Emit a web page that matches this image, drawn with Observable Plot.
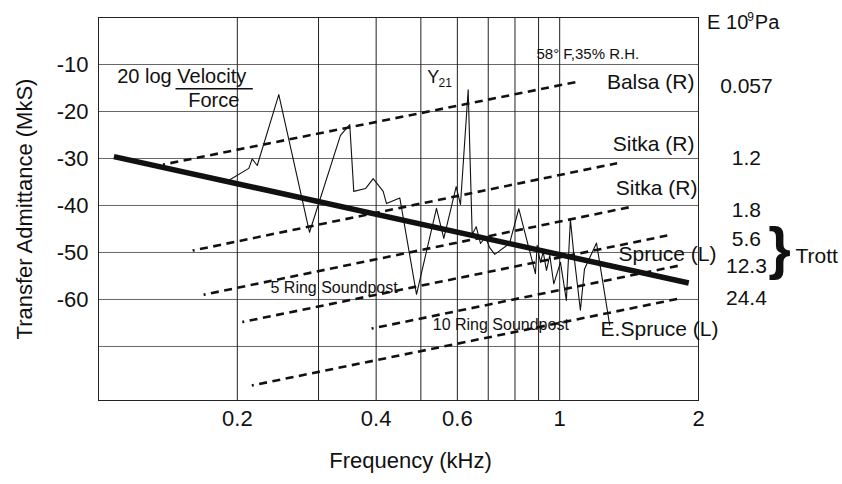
<!DOCTYPE html>
<html><head><meta charset="utf-8">
<script src="https://cdn.jsdelivr.net/npm/d3@7"></script>
<script src="https://cdn.jsdelivr.net/npm/@observablehq/plot@0.6"></script>
<style>body{margin:0;background:#fff}</style>
</head><body><div id="chart"></div>
<script>
// Measured response Y21 (frequency kHz, admittance dB)
const y21Freq = [0.1914,0.2118,0.2154,0.2209,0.2460,0.2868,0.3347,0.3506,0.3577,0.3793,0.3941,0.4143,0.4212,0.4501,0.4893,0.5406,0.5607,0.5965,0.6094,0.6333,0.6461,0.6592,0.6735,0.6905,0.7044,0.7233,0.7785,0.8154,0.8860,0.8936,0.9086,0.9211,0.9363,0.9518,0.9710,1.004,1.034,1.055,1.073,1.109,1.132,1.202,1.284];
const y21Adm  = [-34.7,-32.1,-30.1,-31.5,-16.4,-45.7,-25.1,-22.8,-37.0,-36.4,-34.3,-37.0,-39.6,-38.4,-58.9,-40.6,-47.0,-36.0,-39.8,-15.4,-46.2,-44.5,-48.1,-46.7,-48.9,-50.4,-48.1,-40.7,-54.5,-48.5,-52.1,-49.9,-53.8,-50.6,-56.7,-52.1,-60.2,-43.0,-50.3,-62.3,-53.5,-48.0,-65.5];

// Thick trend line
const trendFreq = [0.108, 1.905];
const trendAdm = [-29.6, -56.5];

// Dashed material lines
const dashFreqStart = [0.138, 0.160, 0.169, 0.205, 0.391, 0.215];
const dashAdmStart  = [-31.3, -49.6, -59.0, -64.8, -66.2, -78.3];
const dashFreqEnd   = [1.109, 1.332, 1.412, 1.711, 1.813, 1.798];
const dashAdmEnd    = [-13.55, -31.0, -40.4, -46.4, -52.8, -59.9];

// Ticks and grid
const xTicks = [0.2, 0.4, 0.6, 0.8, 1, 2];
const xGrid = [0.2, 0.3, 0.4, 0.5, 0.6, 0.7, 0.8, 0.9, 1];
const yTicks = [-10, -20, -30, -40, -50, -60];
const yGrid = [0, -10, -20, -30, -40, -50, -60, -70];

// Material labels (right-aligned)
const matText = ["Balsa (R)", "Sitka (R)", "Sitka (R)", "Spruce (L)", "E.Spruce (L)"];
const matFreq = [1.960, 1.960, 1.990, 2.188, 2.210];
const matAdm  = [-13.77, -27.0, -36.4, -50.4, -66.4];

// Soundpost labels
const spText = ["5 Ring Soundpost", "10 Ring Soundpost"];
const spFreq = [0.236, 0.5306];
const spAdm  = [-57.5, -65.5];

// Young's modulus column
const eText = ["0.057", "1.2", "1.8", "5.6", "12.3", "24.4"];
const eAdm  = [-14.68, -30.06, -41.06, -47.09, -52.98, -59.85];
const eFreq = 2.541;

const font = "'Liberation Sans', Arial, Helvetica, sans-serif";

const y21 = y21Freq.map((f, i) => ({f, a: y21Adm[i]}));
const dashes = dashFreqStart.map((f, i) => ({f1: f, a1: dashAdmStart[i], f2: dashFreqEnd[i], a2: dashAdmEnd[i]}));
const trend = [{f1: trendFreq[0], a1: trendAdm[0], f2: trendFreq[1], a2: trendAdm[1]}];
const mats = matText.map((t, i) => ({t, f: matFreq[i], a: matAdm[i]}));
const sps = spText.map((t, i) => ({t, f: spFreq[i], a: spAdm[i]}));
const es = eText.map((t, i) => ({t, f: eFreq, a: eAdm[i]}));

const chart = Plot.plot({
  width: 842,
  height: 484,
  marginLeft: 98,
  marginRight: 144,
  marginTop: 17,
  marginBottom: 84,
  style: {fontFamily: font, fontSize: "21px", color: "#111", background: "#fff", overflow: "visible"},
  x: {type: "log", domain: [0.1, 2]},
  y: {domain: [-81.5, 0]},
  marks: [
    Plot.ruleY(yGrid, {stroke: "#666", strokeWidth: 1}),
    Plot.ruleX(xGrid, {stroke: "#222", strokeWidth: 1}),
    Plot.frame({stroke: "#222", strokeWidth: 1}),
    Plot.axisX(xTicks, {tickSize: 0, tickPadding: 10, tickFormat: d => String(d), fontSize: 22, label: null}),
    Plot.axisY(yTicks, {tickSize: 0, tickPadding: 10, tickFormat: d => String(d), fontSize: 22, label: null}),
    Plot.link(dashes, {x1: "f1", y1: "a1", x2: "f2", y2: "a2", stroke: "#111", strokeWidth: 2.6, strokeDasharray: "8,5.5", strokeDashoffset: 6}),
    Plot.link(trend, {x1: "f1", y1: "a1", x2: "f2", y2: "a2", stroke: "#111", strokeWidth: 5.5}),
    Plot.line(y21, {x: "f", y: "a", stroke: "#111", strokeWidth: 1.1}),
    // annotations
    Plot.text(["20 log Velocity"], {x: 0.1098, y: -12.55, text: d => d, textAnchor: "start", fontSize: 20}),
    Plot.link([{f1: 0.1469, f2: 0.2161, a: -15.17}], {x1: "f1", x2: "f2", y1: "a", y2: "a", stroke: "#111", strokeWidth: 1.5}),
    Plot.text(["Force"], {x: 0.1565, y: -17.66, text: d => d, textAnchor: "start", fontSize: 20}),
    Plot.text(["Y"], {x: 0.516, y: -12.7, text: d => d, textAnchor: "start", fontSize: 18}),
    Plot.text(["21"], {x: 0.5461, y: -13.9, text: d => d, textAnchor: "start", fontSize: 12}),
    Plot.text(["58° F,35% R.H."], {x: 0.8905, y: -7.72, text: d => d, textAnchor: "start", fontSize: 15}),
    Plot.text(mats, {x: "f", y: "a", text: "t", textAnchor: "end", fontSize: 21}),
    Plot.text(sps, {x: "f", y: "a", text: "t", textAnchor: "start", fontSize: 16}),
    Plot.text(es, {x: "f", y: "a", text: "t", textAnchor: "middle", fontSize: 21}),
    Plot.text(["E 10"], {x: 2.088, y: -1.0, text: d => d, textAnchor: "start", fontSize: 20}),
    Plot.text(["9"], {x: 2.550, y: 0.0, text: d => d, textAnchor: "start", fontSize: 12}),
    Plot.text(["Pa"], {x: 2.649, y: -1.0, text: d => d, textAnchor: "start", fontSize: 20}),
    Plot.text(["}"], {x: 2.997, y: -49.34, text: d => d, textAnchor: "middle", fontSize: 58, fontWeight: "bold"}),
    Plot.text(["Trott"], {x: 3.245, y: -50.85, text: d => d, textAnchor: "start", fontSize: 21}),
    // axis titles
    Plot.text(["Transfer Admittance (MkS)"], {frameAnchor: "left", text: d => d, rotate: -90, dx: -74, textAnchor: "middle", fontSize: 22}),
    Plot.text(["Frequency (kHz)"], {frameAnchor: "bottom", text: d => d, dy: 67, dx: 12, textAnchor: "middle", fontSize: 22})
  ]
});
document.getElementById("chart").appendChild(chart);
</script></body></html>
